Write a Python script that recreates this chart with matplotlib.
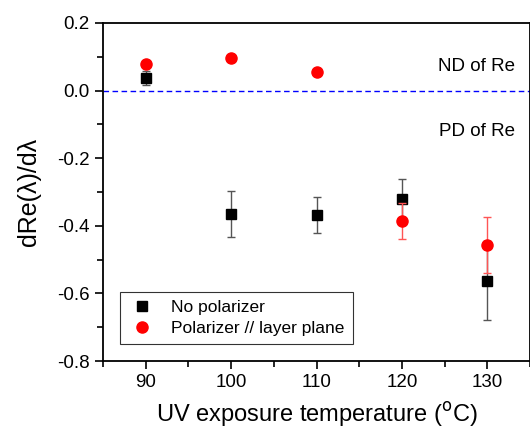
import matplotlib
matplotlib.use("Agg")
import matplotlib.pyplot as plt
from matplotlib.ticker import MultipleLocator
from matplotlib.lines import Line2D

# data
temp_black = [90, 100, 110, 120, 130]
val_black = [0.037, -0.364, -0.367, -0.320, -0.562]
err_black = [0.02, 0.068, 0.053, 0.057, 0.118]

temp_red = [90, 100, 110, 120, 130]
val_red = [0.080, 0.095, 0.056, -0.385, -0.456]
err_red = [0.0, 0.0, 0.0, 0.053, 0.083]

plt.rcParams['font.family'] = ['Liberation Sans', 'DejaVu Sans']

fig = plt.figure(figsize=(5.3, 4.3), dpi=100)
ax = fig.add_axes([103/530, 1 - 361/430, 427/530, 338/430])

ax.axhline(0, color='#0000ff', linestyle=(0, (4, 2.5)), linewidth=1)

ax.errorbar(temp_black, val_black, yerr=err_black, fmt='s', color='black',
            ecolor='#555555', elinewidth=1, capsize=3, markersize=7, zorder=3)
ax.errorbar(temp_red, val_red, yerr=err_red, fmt='o', color='red',
            ecolor='#ff5555', elinewidth=1, capsize=3, markersize=8, zorder=4)

ax.set_xlim(85, 135)
ax.set_ylim(-0.8, 0.2)
ax.xaxis.set_major_locator(MultipleLocator(10))
ax.xaxis.set_minor_locator(MultipleLocator(5))
ax.yaxis.set_major_locator(MultipleLocator(0.2))
ax.yaxis.set_minor_locator(MultipleLocator(0.1))
ax.yaxis.set_major_formatter(plt.FuncFormatter(lambda v, p: f"{v:.1f}"))
ax.tick_params(which='both', direction='out', top=False, right=False,
               labelsize=13.5, width=1.2)
ax.tick_params(which='major', length=6)
ax.tick_params(which='minor', length=4)
for s in ax.spines.values():
    s.set_linewidth(1.3)

ax.set_xlabel('UV exposure temperature ($^{\\rm o}$C)', fontsize=17, labelpad=6)
ax.set_ylabel('dRe(\u03bb)/d\u03bb', fontsize=18, labelpad=12)

ax.text(0.965, 0.87, 'ND of Re', transform=ax.transAxes, ha='right',
        va='center', fontsize=13.5)
ax.text(0.965, 0.68, 'PD of Re', transform=ax.transAxes, ha='right',
        va='center', fontsize=13.5)

handles = [
    Line2D([], [], marker='s', color='black', linestyle='none', markersize=7),
    Line2D([], [], marker='o', color='red', linestyle='none', markersize=8),
]
leg = ax.legend(handles, ['No polarizer', 'Polarizer // layer plane'],
                loc='lower left', bbox_to_anchor=(0.02, 0.025), fontsize=12.5,
                frameon=True, fancybox=False, edgecolor='black',
                borderpad=0.45, handletextpad=0.9, labelspacing=0.35,
                handlelength=1.6)
leg.get_frame().set_linewidth(0.8)

fig.savefig('out.png', dpi=100)
